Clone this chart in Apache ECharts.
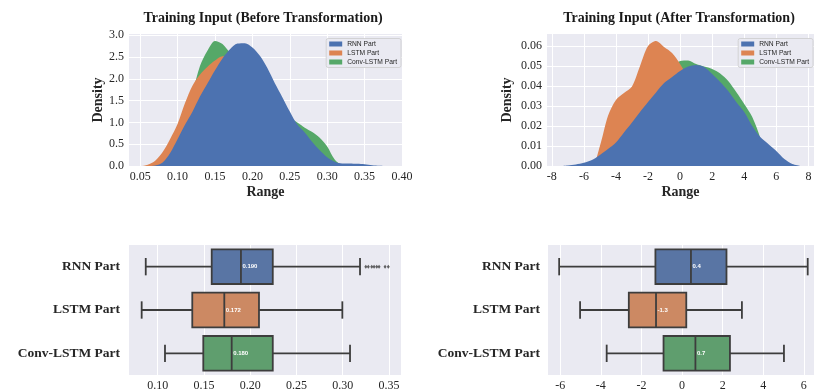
<!DOCTYPE html>
<html><head><meta charset="utf-8">
<script src="https://cdn.jsdelivr.net/npm/echarts@6/dist/echarts.min.js"></script>
<style>html,body{margin:0;padding:0;background:#fff}#c{width:817px;height:392px}</style>
</head><body><div id="c"></div><script>
const seriesNames = ['RNN Part', 'LSTM Part', 'Conv-LSTM Part'];
const kdeColors = ['#4C72B0', '#DD8452', '#55A868'];
const boxColors = ['#5975A4', '#CC8963', '#5F9E6E'];
const titleBefore = 'Training Input (Before Transformation)';
const titleAfter = 'Training Input (After Transformation)';

// KDE – before transformation
const beforeX    = [0.04,0.05,0.06,0.07,0.08,0.09,0.10,0.11,0.12,0.13,0.14,0.15,0.16,0.17,0.18,0.19,0.20,0.21,0.22,0.23,0.24,0.25,0.26,0.27,0.28,0.29,0.30,0.31,0.32,0.33,0.34,0.35,0.36,0.37,0.38];
const beforeRNN  = [0,0,0,0.01,0.08,0.30,0.62,0.95,1.25,1.60,1.90,2.20,2.47,2.68,2.81,2.82,2.72,2.53,2.25,1.90,1.58,1.25,0.95,0.77,0.55,0.36,0.20,0.10,0.06,0.06,0.05,0.04,0.02,0.005,0];
const beforeLSTM = [0,0,0.03,0.12,0.32,0.62,0.97,1.45,1.85,2.10,2.28,2.42,2.52,2.50,2.35,2.20,2.00,1.75,1.50,1.25,1.00,0.80,0.60,0.45,0.32,0.20,0.10,0.03,0,0,0,0,0,0,0];
const beforeConv = [0,0,0,0.05,0.20,0.45,0.80,1.25,1.70,2.30,2.65,2.87,2.80,2.60,2.45,2.30,2.10,1.90,1.65,1.40,1.20,1.10,1.00,0.88,0.78,0.65,0.45,0.15,0.02,0,0,0,0,0,0];

// KDE – after transformation
const afterX    = [-7.5,-7,-6.5,-6,-5.5,-5,-4.5,-4,-3.5,-3,-2.5,-2,-1.5,-1,-0.5,0,0.5,1,1.5,2,2.5,3,3.5,4,4.5,5,5.5,6,6.5,7,7.5];
const afterRNN  = [0,0.0003,0.0008,0.0016,0.003,0.0055,0.0085,0.0118,0.0168,0.0218,0.027,0.032,0.0368,0.0415,0.0445,0.0475,0.0497,0.0505,0.0495,0.046,0.042,0.0375,0.032,0.027,0.020,0.0145,0.011,0.0075,0.0035,0.001,0];
const afterLSTM = [0,0,0,0,0,0.010,0.025,0.033,0.0365,0.0398,0.050,0.060,0.0625,0.0595,0.0565,0.051,0.044,0.038,0.032,0.026,0.020,0.013,0.007,0.003,0.001,0,0,0,0,0,0];
const afterConv = [0,0,0,0,0,0,0,0,0.012,0.019,0.026,0.031,0.037,0.043,0.049,0.0525,0.0528,0.051,0.0497,0.0485,0.0462,0.0425,0.037,0.031,0.0245,0.014,0,0,0,0,0];

// Boxplots: [min whisker, Q1, median, Q3, max whisker]
const boxBeforeRNN  = [0.0871, 0.1584, 0.190, 0.2244, 0.3187];
const boxBeforeLSTM = [0.0827, 0.1374, 0.172, 0.2095, 0.2996];
const boxBeforeConv = [0.1079, 0.1493, 0.180, 0.2244, 0.3079];
const outliersBeforeRNN = [0.325, 0.3277, 0.3314, 0.3339, 0.3368, 0.3393, 0.3458, 0.3493];
const boxAfterRNN  = [-6.05, -1.31, 0.44, 2.19, 6.19];
const boxAfterLSTM = [-5.02, -2.62, -1.28, 0.21, 2.95];
const boxAfterConv = [-3.71, -0.91, 0.66, 2.36, 5.02];

const SERIF = '"Liberation Serif", "Times New Roman", serif';
const SANS = '"Liberation Sans", Arial, sans-serif';
const TXT = '#262626';
const LINE = '#3d3d3d';

function zip(xs, ys) { return xs.map((x, i) => [x, ys[i]]); }
function tickFmt(step, digits) {
  return v => Math.abs(v / step - Math.round(v / step)) < 1e-6 ? v.toFixed(digits) : '';
}

function valueAxis(gridIndex, min, max, splitNumber, fmt, extra) {
  return Object.assign({
    type: 'value', gridIndex, min, max, splitNumber,
    axisLine: {show: false}, axisTick: {show: false},
    axisLabel: {formatter: fmt, fontFamily: SERIF, fontSize: 12, color: TXT, margin: 5},
    splitLine: {show: true, showMinLine: false, showMaxLine: false, lineStyle: {color: '#ffffff', width: 1}},
    nameTextStyle: {fontFamily: SERIF, fontSize: 14, fontWeight: 'bold', color: TXT}
  }, extra || {});
}
function catAxis(gridIndex, margin) {
  return {
    type: 'category', gridIndex, data: seriesNames, inverse: true,
    axisLine: {show: false}, axisTick: {show: false}, splitLine: {show: false},
    axisLabel: {fontFamily: SERIF, fontSize: 13.5, fontWeight: 'bold', color: TXT, margin}
  };
}

function kdeSeries(name, color, xs, ys, axisIdx, z) {
  return {
    type: 'line', name, xAxisIndex: axisIdx, yAxisIndex: axisIdx, z,
    data: zip(xs, ys), smooth: 0.3, showSymbol: false, silent: true,
    lineStyle: {color, width: 0}, itemStyle: {color},
    areaStyle: {color, opacity: 1}
  };
}

function boxRender(digits) {
  return function (params, api) {
    const cat = api.value(0);
    const lo = api.coord([api.value(1), cat]);
    const q1 = api.coord([api.value(2), cat]);
    const md = api.coord([api.value(3), cat]);
    const q3 = api.coord([api.value(4), cat]);
    const hi = api.coord([api.value(5), cat]);
    const band = api.size([0, 1])[1];
    const bh = band * 0.8, ch = band * 0.4;
    const y = md[1];
    const ls = {stroke: LINE, lineWidth: 1.8, fill: null};
    return {
      type: 'group', children: [
        {type: 'line', shape: {x1: lo[0], y1: y, x2: q1[0], y2: y}, style: ls},
        {type: 'line', shape: {x1: q3[0], y1: y, x2: hi[0], y2: y}, style: ls},
        {type: 'line', shape: {x1: lo[0], y1: y - ch / 2, x2: lo[0], y2: y + ch / 2}, style: ls},
        {type: 'line', shape: {x1: hi[0], y1: y - ch / 2, x2: hi[0], y2: y + ch / 2}, style: ls},
        {type: 'rect', shape: {x: q1[0], y: y - bh / 2, width: q3[0] - q1[0], height: bh},
          style: {fill: boxColors[params.dataIndex], stroke: LINE, lineWidth: 1.8}},
        {type: 'line', shape: {x1: md[0], y1: y - bh / 2, x2: md[0], y2: y + bh / 2}, style: ls},
        {type: 'text', x: md[0] + 1.5, y: y,
          style: {text: api.value(3).toFixed(digits), fill: '#ffffff', font: 'bold 6px ' + SANS,
            align: 'left', textAlign: 'left', verticalAlign: 'middle', textVerticalAlign: 'middle'}}
      ]
    };
  };
}

function legendAt(right) {
  return {
    right, top: 38.5, orient: 'vertical', data: seriesNames, icon: 'rect',
    itemWidth: 13, itemHeight: 5, itemGap: 2, padding: [2, 4, 2, 3],
    textStyle: {fontFamily: SANS, fontSize: 6.7, color: TXT, lineHeight: 7},
    backgroundColor: '#EAEAF2', borderColor: '#CCCCCC', borderWidth: 0.8, borderRadius: 2,
    selectedMode: false, itemStyle: {borderWidth: 0}, z: 20
  };
}

const chart = echarts.init(document.getElementById('c'), null, {renderer: 'canvas'});
chart.setOption({
  animation: false,
  backgroundColor: '#ffffff',
  graphic: [
    {type: 'text', x: 263, y: 18, style: {text: titleBefore, font: 'bold 14px ' + SERIF, fill: '#1a1a1a',
      align: 'center', textAlign: 'center', verticalAlign: 'middle', textVerticalAlign: 'middle'}},
    {type: 'text', x: 679, y: 18, style: {text: titleAfter, font: 'bold 14px ' + SERIF, fill: '#1a1a1a',
      align: 'center', textAlign: 'center', verticalAlign: 'middle', textVerticalAlign: 'middle'}}
  ],
  legend: [legendAt(416), legendAt(4)],
  grid: [
    {left: 129, top: 34, width: 273, height: 132, show: true, backgroundColor: '#EAEAF2', borderWidth: 0},
    {left: 547, top: 34, width: 268, height: 132, show: true, backgroundColor: '#EAEAF2', borderWidth: 0},
    {left: 129, top: 245, width: 272, height: 132, show: true, backgroundColor: '#EAEAF2', borderWidth: 0},
    {left: 548, top: 245, width: 267, height: 132, show: true, backgroundColor: '#EAEAF2', borderWidth: 0}
  ],
  xAxis: [
    valueAxis(0, 0.035, 0.40, 7, tickFmt(0.05, 2), {name: 'Range', nameLocation: 'middle', nameGap: 19}),
    valueAxis(1, -8.3, 8.35, 8, tickFmt(2, 0), {name: 'Range', nameLocation: 'middle', nameGap: 19}),
    valueAxis(2, 0.069, 0.363, 6, tickFmt(0.05, 2)),
    valueAxis(3, -6.6, 6.5, 6, tickFmt(2, 0))
  ],
  yAxis: [
    valueAxis(0, 0, 3.03, 6, tickFmt(0.5, 1), {name: 'Density', nameLocation: 'middle', nameGap: 24, nameRotate: 90}),
    valueAxis(1, 0, 0.066, 6, tickFmt(0.01, 2), {name: 'Density', nameLocation: 'middle', nameGap: 33, nameRotate: 90}),
    catAxis(2, 9),
    catAxis(3, 8)
  ],
  series: [
    kdeSeries(seriesNames[2], kdeColors[2], beforeX, beforeConv, 0, 2),
    kdeSeries(seriesNames[1], kdeColors[1], beforeX, beforeLSTM, 0, 3),
    kdeSeries(seriesNames[0], kdeColors[0], beforeX, beforeRNN, 0, 4),
    kdeSeries(seriesNames[2], kdeColors[2], afterX, afterConv, 1, 2),
    kdeSeries(seriesNames[1], kdeColors[1], afterX, afterLSTM, 1, 3),
    kdeSeries(seriesNames[0], kdeColors[0], afterX, afterRNN, 1, 4),
    {
      type: 'custom', name: 'box-before', xAxisIndex: 2, yAxisIndex: 2, silent: true,
      renderItem: boxRender(3), encode: {x: [1, 2, 3, 4, 5], y: 0},
      data: [[0].concat(boxBeforeRNN), [1].concat(boxBeforeLSTM), [2].concat(boxBeforeConv)]
    },
    {
      type: 'scatter', name: 'outliers-before', xAxisIndex: 2, yAxisIndex: 2, silent: true,
      symbol: 'diamond', symbolSize: [3, 4], itemStyle: {color: LINE},
      data: outliersBeforeRNN.map(v => [v, 0])
    },
    {
      type: 'custom', name: 'box-after', xAxisIndex: 3, yAxisIndex: 3, silent: true,
      renderItem: boxRender(1), encode: {x: [1, 2, 3, 4, 5], y: 0},
      data: [[0].concat(boxAfterRNN), [1].concat(boxAfterLSTM), [2].concat(boxAfterConv)]
    }
  ]
});
</script></body></html>
